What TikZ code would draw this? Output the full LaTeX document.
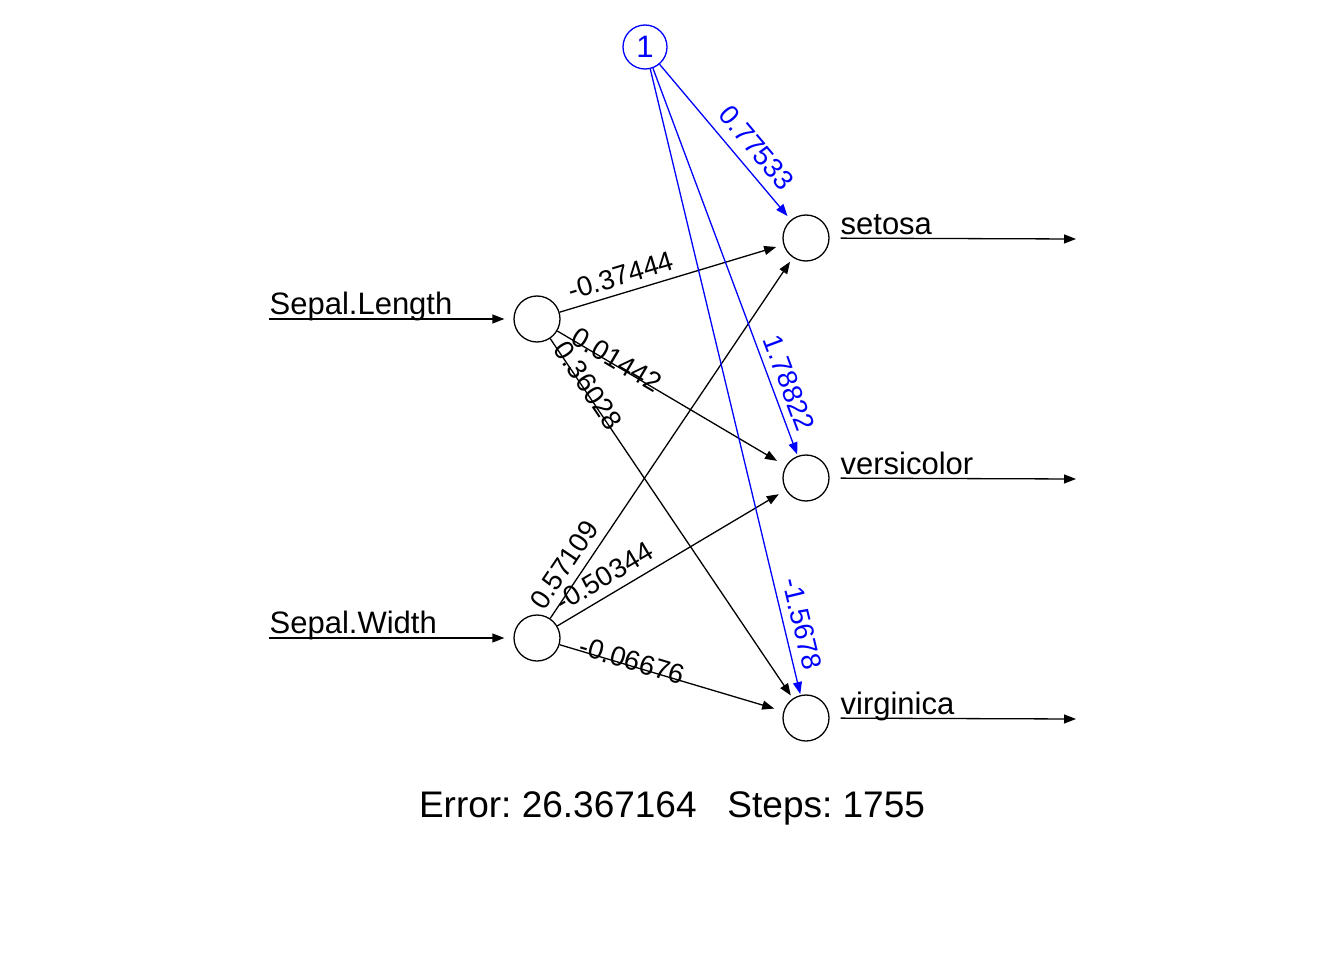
\documentclass[tikz,border=0pt]{standalone}
\usepackage{fontspec}
\setmainfont{Liberation Sans}
\usetikzlibrary{positioning,arrows.meta}
\frenchspacing

\begin{document}
\begin{tikzpicture}[
		x=1pt, y=-1pt,
		line width=1.3pt,
		>={Triangle[length=12pt,width=9pt]},
		neuron/.style={circle, draw, minimum size=46pt, inner sep=0pt},
		bias/.style={neuron, blue, minimum size=44pt},
		syn/.style={->, shorten >=#1},
		synb/.style={syn=#1, blue},
		wlab/.style={sloped, inner sep=0pt, font=\fontsize{27.5}{30}\selectfont},
		lab/.style={anchor=base west, inner sep=0pt, font=\fontsize{31}{36}\selectfont},
	]
		\useasboundingbox (0,0) rectangle (1344,960);
		% nodes
		\node [bias] (one) at (645,47) {\fontsize{31}{36}\selectfont 1};
		\node [neuron] (sl) at (537,319) {};
		\node [neuron] (sw) at (537,638) {};
		\node [neuron] (se) at (806,238) {};
		\node [neuron] (ve) at (806,478) {};
		\node [neuron] (vi) at (806,718) {};
		\coordinate (slin) at (269,319);
		\coordinate (swin) at (269,638);
		\coordinate (seout) at (1076,239);
		\coordinate (veout) at (1076,479);
		\coordinate (viout) at (1076,719);
		
		% inputs and outputs
		\node [lab] (sllab) at ([yshift=5pt]slin) {Sepal.Length};
		\node [lab] (swlab) at ([yshift=5pt]swin) {Sepal.Width};
		\node [lab] (selab) at (840,234) {setosa};
		\node [lab] (velab) at (840,474) {versicolor};
		\node [lab] (vilab) at (840,714) {virginica};
		\draw [->, shorten >=9pt] (slin) -- (sl);
		\draw [->, shorten >=9pt] (swin) -- (sw);
		\draw [->, shorten <=11pt] (se) -- (seout);
		\draw [->, shorten <=11pt] (ve) -- (veout);
		\draw [->, shorten <=11pt] (vi) -- (viout);
		
		% weights
		\draw [syn=7.5pt] (sl) -- (se);
		\draw [syn=10pt] (sl) -- (ve);
		\draw [syn=3.5pt] (sl) -- (vi);
		\draw [syn=5pt] (sw) -- (se);
		\draw [syn=8pt] (sw) -- (ve);
		\draw [syn=9.5pt] (sw) -- (vi);
		\path (sl.center) -- node[wlab, pos=0.33, above=7pt] {-0.37444} (se.center);
		\path (sl.center) -- node[wlab, pos=0.287, above=-5pt] {0.01442} (ve.center);
		\path (sl.center) -- node[wlab, pos=0.175, above=-5pt] {0.36028} (vi.center);
		\path (sw.center) -- node[wlab, pos=0.157, above=8pt] {0.57109} (se.center);
		\path (sw.center) -- node[wlab, pos=0.284, above=8pt] {-0.50344} (ve.center);
		\path (sw.center) -- node[wlab, pos=0.348, above=-5pt] {-0.06676} (vi.center);
		
		% bias
		\draw [synb=5pt] (one) -- (se);
		\draw [synb=1.5pt] (one) -- (ve);
		\draw [synb=1pt] (one) -- (vi);
		\path (one.center) -- node[wlab, blue, pos=0.597, above=10pt] {0.77533} (se.center);
		\path (one.center) -- node[wlab, blue, pos=0.794, above=7pt] {1.78822} (ve.center);
		\path (one.center) -- node[wlab, blue, pos=0.866, above=8pt] {-1.5678} (vi.center);
		
		\node [anchor=base, font=\fontsize{37}{42}\selectfont] (err) at (672,817)
			{Error: 26.367164\ \ \ Steps: 1755};
	\end{tikzpicture}
\end{document}
